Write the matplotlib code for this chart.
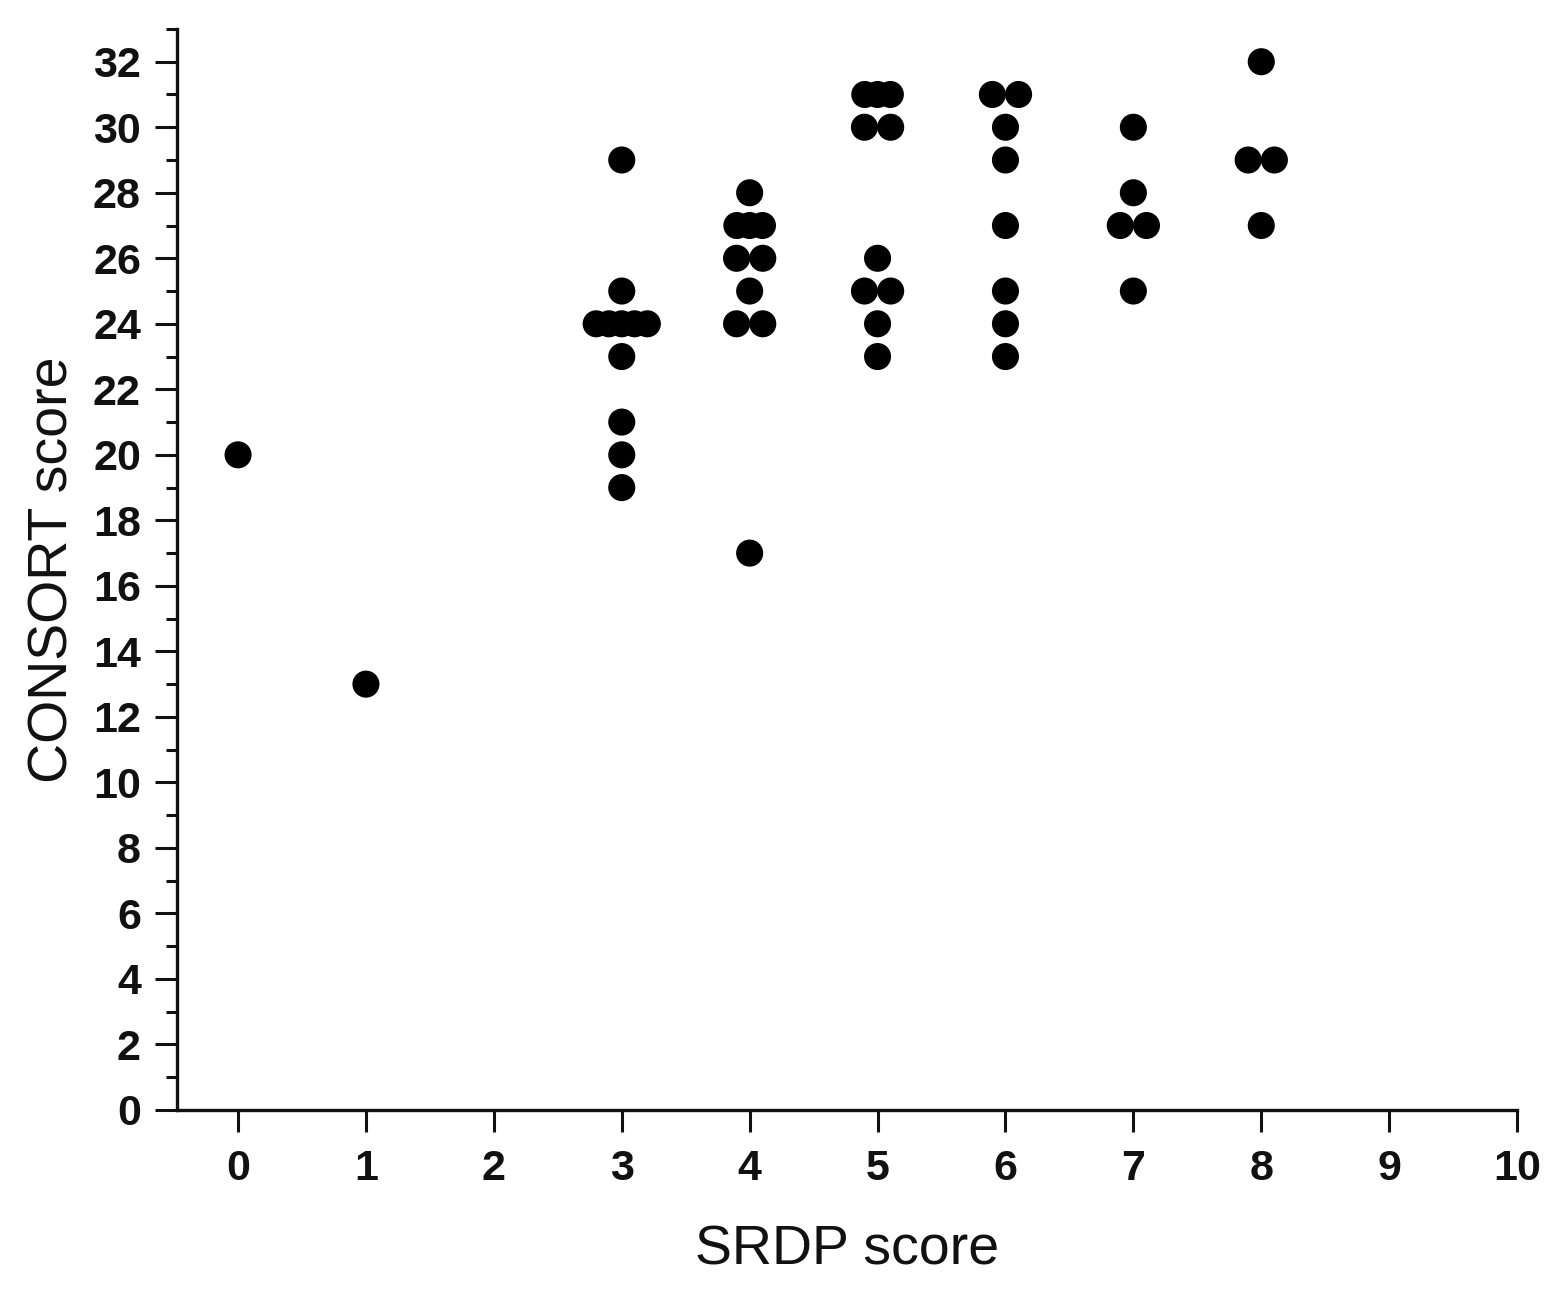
import numpy as np
import matplotlib
matplotlib.use("Agg")
import matplotlib.pyplot as plt
from matplotlib.ticker import MultipleLocator

# Data: SRDP score (x) and CONSORT score (y), one entry per study
srdp = [0, 1,
        3, 3, 3, 3, 3, 3, 3, 3, 3, 3, 3,
        4, 4, 4, 4, 4, 4, 4, 4, 4, 4,
        5, 5, 5, 5, 5, 5, 5, 5, 5, 5,
        6, 6, 6, 6, 6, 6, 6, 6,
        7, 7, 7, 7, 7,
        8, 8, 8, 8]
consort = [20, 13,
           29, 25, 24, 24, 24, 24, 24, 23, 21, 20, 19,
           28, 27, 27, 27, 26, 26, 25, 24, 24, 17,
           31, 31, 31, 30, 30, 26, 25, 25, 24, 23,
           31, 31, 30, 29, 27, 25, 24, 23,
           30, 28, 27, 27, 25,
           32, 29, 29, 27]

xticks = list(range(0, 11))
yticks = list(range(0, 33, 2))

plt.rcParams['font.family'] = ['Liberation Sans', 'DejaVu Sans']

# Prism-like horizontal spreading of identical points
xs = np.array(srdp, dtype=float)
ys = np.array(consort, dtype=float)
xplot = xs.copy()
pairs = {}
for i, (a, b) in enumerate(zip(srdp, consort)):
    pairs.setdefault((a, b), []).append(i)
for key, idx in pairs.items():
    n = len(idx)
    if n == 1:
        continue
    step = 0.205 if n == 2 else 0.1
    offs = (np.arange(n) - (n - 1) / 2) * step
    for j, k in enumerate(idx):
        xplot[k] = xs[k] + offs[j]

fig = plt.figure(figsize=(15.64, 12.99), dpi=100)
ax = fig.add_axes([0.1132, 0.1455, 0.970 - 0.1132, 0.9777 - 0.1455])

ax.scatter(xplot, ys, s=380, color='black', edgecolors='none', zorder=3, clip_on=False)

ax.set_xlim(-0.477, 10)
ax.set_ylim(0, 33)
ax.set_xticks(xticks)
ax.set_yticks(yticks)
ax.yaxis.set_minor_locator(MultipleLocator(1))

for s in ['top', 'right']:
    ax.spines[s].set_visible(False)
for s in ['left', 'bottom']:
    ax.spines[s].set_linewidth(2.4)
    ax.spines[s].set_color('#111111')

ax.tick_params(axis='both', which='major', length=16, width=2.2, labelsize=31,
               color='#111111', labelcolor='#111111')
ax.tick_params(axis='y', which='major', pad=10)
ax.tick_params(axis='x', which='major', pad=12)
ax.tick_params(axis='y', which='minor', length=8, width=2.2, color='#111111')
for lab in ax.get_xticklabels() + ax.get_yticklabels():
    lab.set_fontweight('bold')

ax.set_xlabel('SRDP score', fontsize=40, labelpad=26, color='#111111')
ax.set_ylabel('CONSORT score', fontsize=40, labelpad=10, color='#111111')

fig.savefig('out.png', dpi=100, facecolor='white')
